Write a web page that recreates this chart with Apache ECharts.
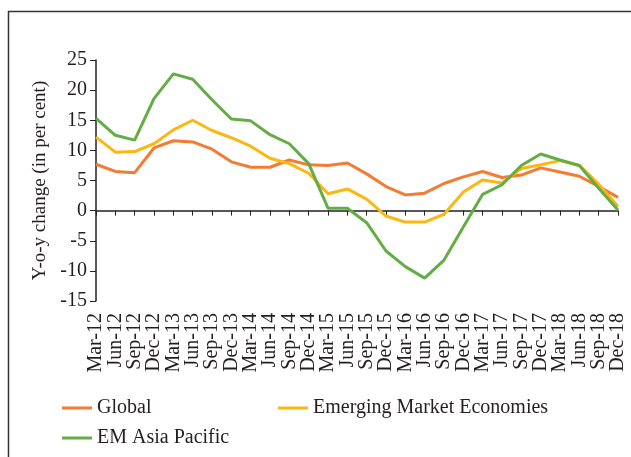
<!DOCTYPE html>
<html>
<head>
<meta charset="utf-8">
<script src="https://cdn.jsdelivr.net/npm/echarts@6/dist/echarts.min.js"></script>
<style>
  html, body { margin: 0; padding: 0; background: #fff; }
  #chart { width: 631px; height: 457px; }
</style>
</head>
<body>
<div id="chart"></div>
<script>
// quarters, Mar-12 .. Dec-18
var quarters = ['Mar-12', 'Jun-12', 'Sep-12', 'Dec-12', 'Mar-13', 'Jun-13', 'Sep-13', 'Dec-13',
  'Mar-14', 'Jun-14', 'Sep-14', 'Dec-14', 'Mar-15', 'Jun-15', 'Sep-15', 'Dec-15',
  'Mar-16', 'Jun-16', 'Sep-16', 'Dec-16', 'Mar-17', 'Jun-17', 'Sep-17', 'Dec-17',
  'Mar-18', 'Jun-18', 'Sep-18', 'Dec-18'];

var globalVals = [7.7, 6.5, 6.3, 10.4, 11.6, 11.4, 10.2, 8.1, 7.2, 7.2, 8.4, 7.6,
  7.5, 7.9, 6.1, 4.0, 2.6, 2.9, 4.5, 5.6, 6.5, 5.5, 5.9, 7.1, 6.4, 5.7, 4.0, 2.2];

var emeVals = [12.2, 9.7, 9.8, 11.1, 13.4, 15.0, 13.3, 12.1, 10.7, 8.7, 7.8, 6.2,
  2.8, 3.6, 1.9, -0.9, -1.9, -1.9, -0.6, 3.1, 5.1, 4.6, 7.0, 7.6, 8.3, 7.5, 4.4, 0.7];

var emAsiaVals = [15.3, 12.5, 11.7, 18.6, 22.7, 21.8, 18.4, 15.2, 14.9, 12.6, 11.1, 7.8,
  0.4, 0.4, -2.0, -6.7, -9.3, -11.2, -8.2, -2.7, 2.7, 4.3, 7.5, 9.4, 8.4, 7.5, 3.7, 0.1];

var fontName = 'Liberation Serif';
var txtColor = '#231f20';
var colors = { global: '#f37b32', eme: '#fdb714', asia: '#63ad45' };

var chart = echarts.init(document.getElementById('chart'));

function legendAt(name, left, top) {
  return {
    data: [name],
    left: left,
    top: top,
    padding: 0,
    icon: 'rect',
    itemWidth: 30,
    itemHeight: 3,
    itemGap: 0,
    textStyle: { fontFamily: fontName, fontSize: 20, color: txtColor }
  };
}

var option = {
  animation: false,
  textStyle: { fontFamily: fontName },
  graphic: [{
    type: 'rect',
    shape: { x: 8.5, y: 11.5, width: 700, height: 500 },
    style: { fill: 'none', stroke: '#333', lineWidth: 1.5 },
    silent: true
  }],
  grid: { left: 96, right: 13, top: 60, bottom: 156 },
  legend: [
    legendAt('Global', 62, 398),
    legendAt('Emerging Market Economies', 278, 398),
    legendAt('EM Asia Pacific', 62, 428)
  ],
  xAxis: [
    {
      type: 'category',
      data: quarters,
      boundaryGap: false,
      axisLine: { onZero: true, lineStyle: { color: '#222', width: 1.5 } },
      axisTick: { show: true, length: 5, interval: 0, lineStyle: { color: '#222' } },
      axisLabel: { show: false },
      splitLine: { show: false }
    },
    {
      type: 'category',
      data: quarters,
      position: 'bottom',
      boundaryGap: false,
      axisLine: { show: false },
      axisTick: { show: false },
      axisLabel: {
        interval: 0, rotate: 90, margin: 12,
        fontFamily: fontName, fontSize: 20, color: txtColor
      }
    }
  ],
  yAxis: {
    type: 'value',
    min: -15,
    max: 25,
    interval: 5,
    name: 'Y-o-y change (in per cent)',
    nameLocation: 'middle',
    nameGap: 45,
    nameTextStyle: { fontFamily: fontName, fontSize: 19, color: txtColor },
    axisLine: { show: true, lineStyle: { color: '#222', width: 1.5 } },
    axisTick: { show: true, length: 6, lineStyle: { color: '#222' } },
    axisLabel: { margin: 9, fontFamily: fontName, fontSize: 20, color: txtColor },
    splitLine: { show: false }
  },
  series: [
    {
      name: 'Global', type: 'line', data: globalVals, xAxisIndex: 0,
      symbol: 'none', color: colors.global, lineStyle: { width: 3 }
    },
    {
      name: 'Emerging Market Economies', type: 'line', data: emeVals, xAxisIndex: 0,
      symbol: 'none', color: colors.eme, lineStyle: { width: 3 }
    },
    {
      name: 'EM Asia Pacific', type: 'line', data: emAsiaVals, xAxisIndex: 0,
      symbol: 'none', color: colors.asia, lineStyle: { width: 3 }
    }
  ]
};

chart.setOption(option);
</script>
</body>
</html>
